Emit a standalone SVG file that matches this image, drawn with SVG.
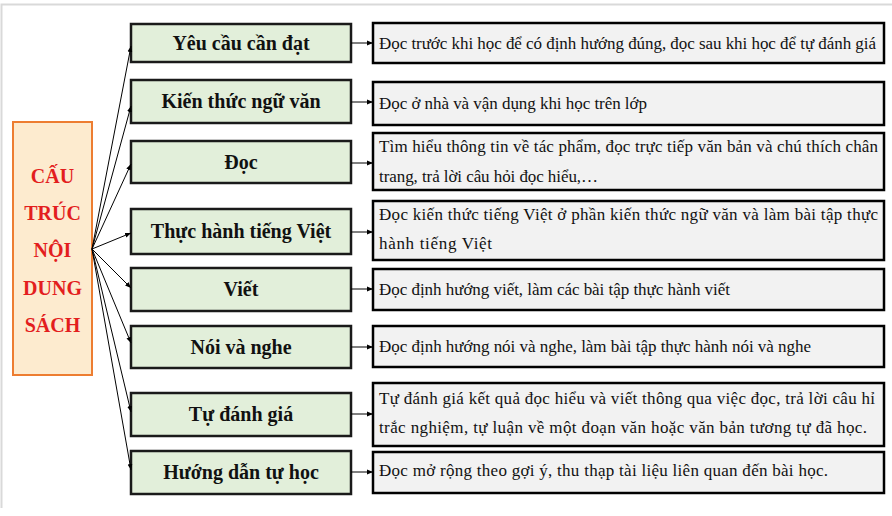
<svg xmlns="http://www.w3.org/2000/svg" width="892" height="516" viewBox="0 0 892 516">
<defs>
<marker id="ah" viewBox="0 0 10 10" refX="10" refY="5" markerWidth="6" markerHeight="6" markerUnits="userSpaceOnUse" orient="auto">
<path d="M0,1 L10,5 L0,9 Z" fill="#000"/>
</marker>
</defs>
<style>
.frame{fill:none;stroke:#d9d9d9;stroke-width:2}
.root{fill:#fdebcf;stroke:#ed7d31;stroke-width:2}
.rt{font-family:"Liberation Serif","Times New Roman",serif;font-size:20px;font-weight:bold;fill:#e31e1e;text-anchor:middle}
.g{fill:#e2efda;stroke:#1a1a1a;stroke-width:2.5}
.gt{font-family:"Liberation Serif","Times New Roman",serif;font-size:20px;font-weight:bold;fill:#111;text-anchor:middle}
.d{fill:#f2f2f2;stroke:#000;stroke-width:2.5}
.dt{font-family:"Liberation Serif","Times New Roman",serif;font-size:17px;fill:#111}
.c{fill:none;stroke:#000;stroke-width:1;marker-end:url(#ah)}
</style>
<rect width="892" height="516" fill="#fff"/>
<polyline class="frame" points="1.5,508 1.5,4.5 892,4.5"/>

<g id="root">
<rect class="root" x="13" y="122" width="79" height="253"/>
<text class="rt" x="52.5" y="183">CẤU</text>
<text class="rt" x="52.5" y="220">TRÚC</text>
<text class="rt" x="52.5" y="257">NỘI</text>
<text class="rt" x="52.5" y="295">DUNG</text>
<text class="rt" x="52.5" y="332">SÁCH</text>
</g>

<g id="n1"><rect class="g" x="131" y="24" width="220" height="38"/><text class="gt" x="241" y="50">Yêu cầu cần đạt</text></g>
<g id="n2"><rect class="g" x="131" y="80" width="220" height="43"/><text class="gt" x="241" y="108">Kiến thức ngữ văn</text></g>
<g id="n3"><rect class="g" x="131" y="141" width="220" height="42"/><text class="gt" x="241" y="169">Đọc</text></g>
<g id="n4"><rect class="g" x="131" y="209" width="220" height="45"/><text class="gt" x="241" y="238">Thực hành tiếng Việt</text></g>
<g id="n5"><rect class="g" x="131" y="268" width="220" height="43"/><text class="gt" x="241" y="296">Viết</text></g>
<g id="n6"><rect class="g" x="131" y="326" width="220" height="42"/><text class="gt" x="241" y="354">Nói và nghe</text></g>
<g id="n7"><rect class="g" x="131" y="393" width="220" height="43"/><text class="gt" x="241" y="421">Tự đánh giá</text></g>
<g id="n8"><rect class="g" x="131" y="451" width="220" height="43"/><text class="gt" x="241" y="479">Hướng dẫn tự học</text></g>

<g id="d1"><rect class="d" x="373" y="23" width="511" height="40"/><text class="dt" x="379" y="49" textLength="497" lengthAdjust="spacing">Đọc trước khi học để có định hướng đúng, đọc sau khi học để tự đánh giá</text></g>
<g id="d2"><rect class="d" x="373" y="82" width="511" height="43"/><text class="dt" x="379" y="109" textLength="268" lengthAdjust="spacing">Đọc ở nhà và vận dụng khi học trên lớp</text></g>
<g id="d3"><rect class="d" x="373" y="133" width="511" height="57"/><text class="dt" x="379" y="152" textLength="499" lengthAdjust="spacing">Tìm hiểu thông tin về tác phẩm, đọc trực tiếp văn bản và chú thích chân</text><text class="dt" x="379" y="182" textLength="219" lengthAdjust="spacing">trang, trả lời câu hỏi đọc hiểu,…</text></g>
<g id="d4"><rect class="d" x="373" y="201" width="511" height="59"/><text class="dt" x="379" y="220" textLength="499" lengthAdjust="spacing">Đọc kiến thức tiếng Việt ở phần kiến thức ngữ văn và làm bài tập thực</text><text class="dt" x="379" y="249" textLength="113" lengthAdjust="spacing">hành tiếng Việt</text></g>
<g id="d5"><rect class="d" x="373" y="269" width="511" height="41"/><text class="dt" x="379" y="295" textLength="351" lengthAdjust="spacing">Đọc định hướng viết, làm các bài tập thực hành viết</text></g>
<g id="d6"><rect class="d" x="373" y="326" width="511" height="41"/><text class="dt" x="379" y="352" textLength="432" lengthAdjust="spacing">Đọc định hướng nói và nghe, làm bài tập thực hành nói và nghe</text></g>
<g id="d7"><rect class="d" x="373" y="383" width="511" height="63"/><text class="dt" x="379" y="404" textLength="496" lengthAdjust="spacing">Tự đánh giá kết quả đọc hiểu và viết thông qua việc đọc, trả lời câu hỉ</text><text class="dt" x="379" y="433" textLength="488" lengthAdjust="spacing">trắc nghiệm, tự luận về một đoạn văn hoặc văn bản tương tự đã học.</text></g>
<g id="d8"><rect class="d" x="373" y="452" width="511" height="41"/><text class="dt" x="379" y="476" textLength="449" lengthAdjust="spacing">Đọc mở rộng theo gợi ý, thu thạp tài liệu liên quan đến bài học.</text></g>

<g id="connectors">
<line class="c" x1="92" y1="249" x2="131" y2="46"/>
<line class="c" x1="92" y1="249" x2="131" y2="106"/>
<line class="c" x1="92" y1="249" x2="131" y2="164"/>
<line class="c" x1="92" y1="249" x2="131" y2="233"/>
<line class="c" x1="92" y1="249" x2="131" y2="288"/>
<line class="c" x1="92" y1="249" x2="131" y2="343"/>
<line class="c" x1="92" y1="249" x2="131" y2="412"/>
<line class="c" x1="92" y1="249" x2="131" y2="470"/>
<line class="c" x1="351" y1="43" x2="373" y2="43"/>
<line class="c" x1="351" y1="102" x2="373" y2="102"/>
<line class="c" x1="351" y1="163" x2="373" y2="163"/>
<line class="c" x1="351" y1="232" x2="373" y2="232"/>
<line class="c" x1="351" y1="289" x2="373" y2="289"/>
<line class="c" x1="351" y1="347" x2="373" y2="347"/>
<line class="c" x1="351" y1="414" x2="373" y2="414"/>
<line class="c" x1="351" y1="472" x2="373" y2="472"/>
</g>
</svg>
